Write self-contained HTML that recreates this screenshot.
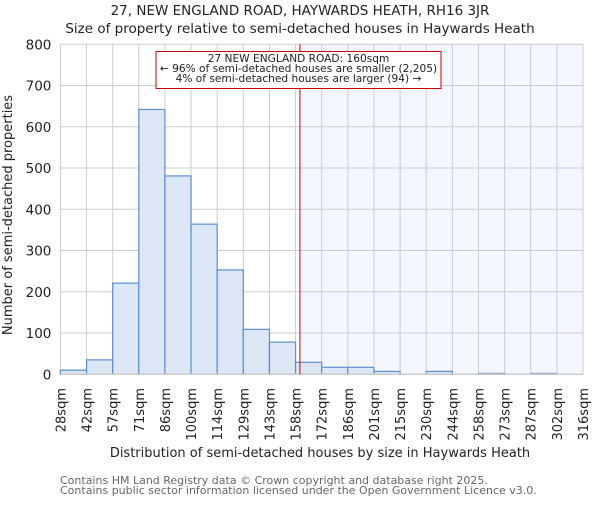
<!DOCTYPE html>
<html><head><meta charset="utf-8"><style>
body{margin:0;background:#fff}
svg text{font-family:"DejaVu Sans","Liberation Sans",sans-serif;fill:#222}
</style></head><body>
<svg id="chart" width="600" height="500" xmlns="http://www.w3.org/2000/svg">
<text x="300" y="15" text-anchor="middle" font-size="13.5">27, NEW ENGLAND ROAD, HAYWARDS HEATH, RH16 3JR</text>
<text x="300" y="33" text-anchor="middle" font-size="13.5">Size of property relative to semi-detached houses in Haywards Heath</text>
<g id="grid"></g><g id="bars"></g><g id="axes"></g>
<text transform="translate(12,215) rotate(-90)" text-anchor="middle" font-size="13">Number of semi-detached properties</text>
<text x="320" y="457" text-anchor="middle" font-size="13">Distribution of semi-detached houses by size in Haywards Heath</text>
<text x="60" y="484" font-size="11" style="fill:#666">Contains HM Land Registry data © Crown copyright and database right 2025.</text>
<text x="60" y="494" font-size="11" style="fill:#666">Contains public sector information licensed under the Open Government Licence v3.0.</text>
</svg>
<script>
const edges=[28,42,57,71,86,100,114,129,143,158,172,186,201,215,230,244,258,273,287,302,316];
const counts=[10,35,221,642,481,364,253,109,78,29,17,17,7,0,7,0,2,0,2,0];
const yTicks=[0,100,200,300,400,500,600,700,800];
const subjectSize=160;
const L=60.4,R=583,T=44.3,B=374.3,yMax=800;
const ns="http://www.w3.org/2000/svg";
const n=counts.length, bw=(R-L)/n;
const xi=i=>L+i*bw;
const xv=v=>{const step=(edges[n]-edges[0])/n;return L+(v-edges[0])/step*bw;};
const y=v=>B-(v/yMax)*(B-T);
function mk(t,a,p){const e=document.createElementNS(ns,t);for(const k in a)e.setAttribute(k,a[k]);p.appendChild(e);return e;}
const g=document.getElementById('grid'),bg=document.getElementById('bars'),ax=document.getElementById('axes');
const sx=xv(subjectSize);
const shade=mk('rect',{x:sx,y:T,width:R-sx,height:B-T,fill:'#f3f6fc'},g);


yTicks.forEach(v=>{
 const l=mk('line',{x1:L,x2:R,y1:y(v),y2:y(v),stroke:'#ccc','stroke-width':1},g);
 
 
 const t=mk('text',{x:L-9,y:y(v)+5,'text-anchor':'end','font-size':13.5},ax);
 t.textContent=v;
 
 
});
edges.forEach((e,i)=>{
 const l=mk('line',{x1:xi(i),x2:xi(i),y1:T,y2:B,stroke:'#ccc','stroke-width':1},g);
 
 
 const t=mk('text',{transform:`translate(${xi(i)+5},${388}) rotate(-90)`,'text-anchor':'end','font-size':13},ax);
 t.textContent=e+'sqm';
 
 
});
counts.forEach((c,i)=>{
 if(c<=0)return;
 const r=mk('rect',{x:xi(i),y:y(c),width:bw,height:B-y(c),fill:'#dce6f4',stroke:'#5b8fd1','stroke-width':1.2},bg);
 
 
});
const ab=mk('line',{x1:L,x2:R,y1:B,y2:B,stroke:'#ccc','stroke-width':1.5},ax);


const rl=mk('line',{x1:sx,x2:sx,y1:T,y2:B,stroke:'#cc0000','stroke-width':1},ax);


const box=mk('rect',{x:156,y:51.5,width:285,height:37,fill:'#fff',stroke:'#cc0000','stroke-width':1},ax);


["27 NEW ENGLAND ROAD: 160sqm","← 96% of semi-detached houses are smaller (2,205)","4% of semi-detached houses are larger (94) →"].forEach((s,i)=>{
 const t=mk('text',{x:298.5,y:62+i*10,'text-anchor':'middle','font-size':10.6},ax);
 t.textContent=s;
 
 
});
</script>
</body></html>
